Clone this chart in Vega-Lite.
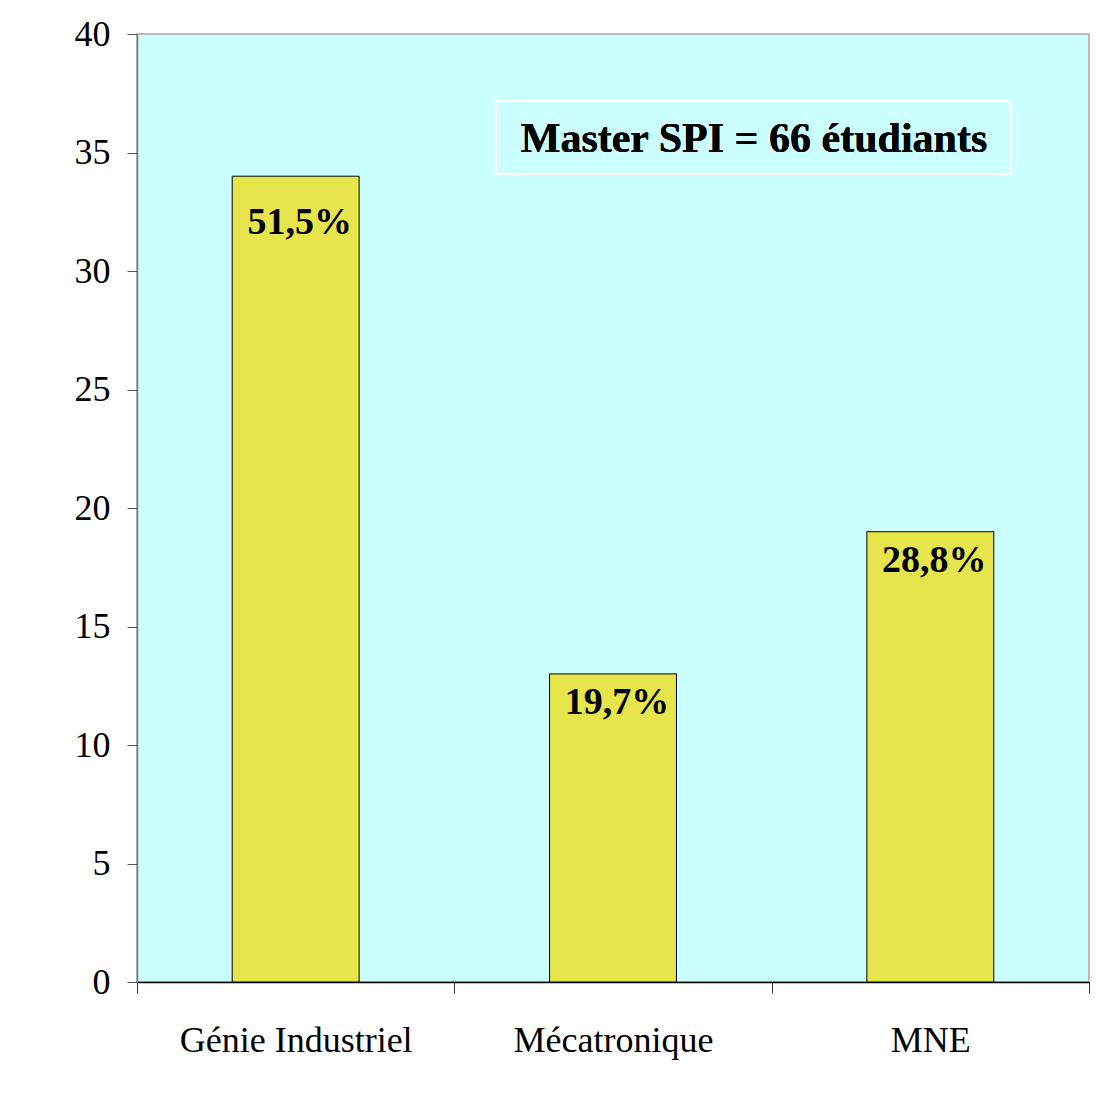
{
  "$schema": "https://vega.github.io/schema/vega-lite/v6.json",
  "autosize": "none",
  "width": 952,
  "height": 948,
  "padding": {"left": 137, "top": 34, "right": 8, "bottom": 113},
  "background": "white",
  "config": {
    "font": "Liberation Serif",
    "view": {"fill": "#CCFFFF", "stroke": "#BBBBBB", "strokeWidth": 2}
  },
  "data": {
    "values": [
      {"filiere": "Génie Industriel", "effectif": 34, "pct": "51,5%"},
      {"filiere": "Mécatronique", "effectif": 13, "pct": "19,7%"},
      {"filiere": "MNE", "effectif": 19, "pct": "28,8%"}
    ]
  },
  "encoding": {
    "x": {
      "field": "filiere",
      "type": "nominal",
      "sort": null,
      "scale": {"paddingInner": 0, "paddingOuter": 0},
      "axis": {
        "title": null,
        "labelAngle": 0,
        "labelLimit": 0,
        "labelFont": "Liberation Serif",
        "labelFontSize": 36,
        "labelColor": "black",
        "labelPadding": 30,
        "tickBand": "extent",
        "tickSize": 11,
        "tickColor": "#333333",
        "domainColor": "black",
        "domainWidth": 1.5,
        "grid": false
      }
    },
    "y": {
      "field": "effectif",
      "type": "quantitative",
      "scale": {"domain": [0, 40], "nice": false},
      "axis": {
        "title": null,
        "values": [0, 5, 10, 15, 20, 25, 30, 35, 40],
        "labelFont": "Liberation Serif",
        "labelFontSize": 36,
        "labelColor": "black",
        "labelPadding": 17,
        "tickSize": 10,
        "tickColor": "#555555",
        "domainColor": "#777777",
        "domainWidth": 1.5,
        "grid": false
      }
    }
  },
  "layer": [
    {
      "mark": {"type": "bar", "fill": "#E6E64C", "stroke": "black", "strokeWidth": 1, "width": {"band": 0.4}}
    },
    {
      "transform": [{"filter": "datum.filiere === 'Génie Industriel'"}],
      "mark": {
        "type": "text",
        "font": "Liberation Serif",
        "fontWeight": "bold",
        "fontSize": 38,
        "color": "black",
        "baseline": "alphabetic",
        "align": "center",
        "dy": 58,
        "dx": 4
      },
      "encoding": {"text": {"field": "pct"}}
    },
    {
      "transform": [{"filter": "datum.filiere !== 'Génie Industriel'"}],
      "mark": {
        "type": "text",
        "font": "Liberation Serif",
        "fontWeight": "bold",
        "fontSize": 38,
        "color": "black",
        "baseline": "alphabetic",
        "align": "center",
        "dy": 40,
        "dx": 4
      },
      "encoding": {"text": {"field": "pct"}}
    },
    {
      "mark": {
        "type": "point",
        "shape": "M-0.2925,-0.09 L0.995,-0.09 L0.995,0.0925 L-0.2925,0.0925 Z",
        "size": 640000,
        "filled": false,
        "stroke": "white",
        "strokeWidth": 2,
        "opacity": 1
      },
      "encoding": {
        "x": {"datum": "Mécatronique"},
        "y": {"datum": 35.65}
      }
    },
    {
      "mark": {
        "type": "text",
        "font": "Liberation Serif",
        "fontWeight": "bold",
        "fontSize": 42,
        "color": "black",
        "baseline": "alphabetic",
        "align": "center",
        "dx": 141,
        "dy": 15
      },
      "encoding": {
        "x": {"datum": "Mécatronique"},
        "y": {"datum": 35.65},
        "text": {"value": "Master SPI = 66 étudiants"}
      }
    }
  ]
}
